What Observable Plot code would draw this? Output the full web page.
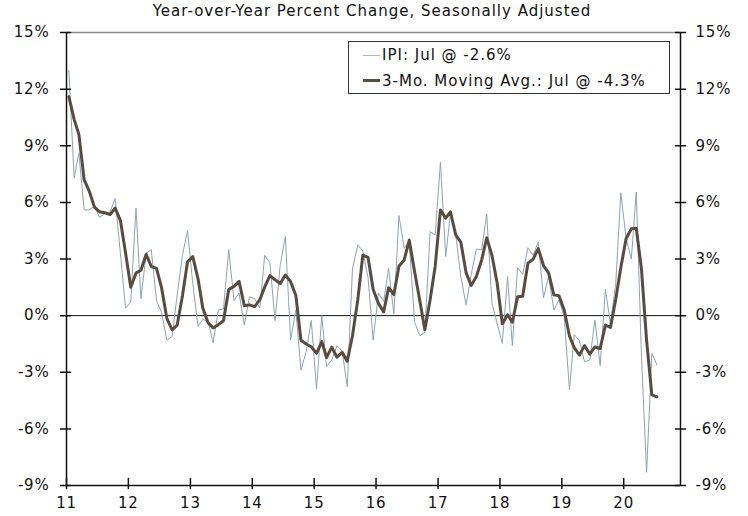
<!DOCTYPE html>
<html><head><meta charset="utf-8">
<script src="https://cdn.jsdelivr.net/npm/d3@7"></script>
<script src="https://cdn.jsdelivr.net/npm/@observablehq/plot@0.6"></script>
<style>
body{margin:0;background:#fff;}
#wrap{position:relative;width:748px;height:516px;font-family:"DejaVu Sans",sans-serif;color:#111;}
#title{height:22px;line-height:22px;text-align:center;font-size:15px;letter-spacing:1.0px;padding-right:4px;}
#legend{position:absolute;left:348px;top:41px;width:320px;height:51px;border:1px solid #333;background:#fff;font-size:15px;letter-spacing:1.0px;}
.row{position:absolute;left:14px;height:20px;display:flex;align-items:center;white-space:nowrap;}
.sw{display:inline-block;width:17px;margin-right:2px;}
</style></head><body>
<div id="wrap">
<div id="title">Year-over-Year Percent Change, Seasonally Adjusted</div>
<div id="chart"></div>
<div id="legend">
  <div class="row" style="top:3px"><span class="sw" id="sw1"></span><span id="lab1"></span></div>
  <div class="row" style="top:28.5px"><span class="sw" id="sw2"></span><span id="lab2"></span></div>
</div>
</div>
<script>
// monthly series, Jan 2011 .. Jul 2020
const startYear = 2011;
const ipi = [
  13.0, 7.3, 8.6, 5.6, 5.6, 5.8, 5.2, 5.4, 5.5, 6.2, 3.3, 0.4,
  0.7, 5.7, 0.9, 3.3, 3.5, 0.8, 0.15, -1.3, -1.1, 1.1, 3.2, 4.5,
  1.7, -0.57, -0.2, -0.3, -1.45, 0.3, 0.35, 3.5, 0.8, 1.2, -0.5, 1.0,
  0.9, 0.4, 3.2, 2.8, -0.27, 2.7, 4.2, -1.3, 0.3, -2.9, -1.9, -0.25,
  -3.9, 0.0, -2.7, -2.35, -1.6, -1.87, -3.76, 2.47, 3.75, 3.43, 2.0, -1.3,
  1.2, 0.75, 2.5, 0.08, 5.3, 3.57, 3.92, -0.32, -1.06, -0.88, 4.45, 4.28,
  8.13, 3.13, 5.42, 4.3, 2.07, 0.57, 2.16, 3.53, 3.48, 5.37, 0.65, -0.41,
  -1.47, 2.07, -1.59, 2.54, 2.19, 3.6, 3.2, 3.9, 0.95, 2.07, 0.3, 0.83,
  -0.05, -3.94, -1.0, -1.34, -2.44, -2.35, -0.23, -2.65, 1.4, -0.46, 1.7, 6.5,
  4.1, 3.0, 6.55, -2.2, -8.3, -2.0, -2.6
];
const ma = [
  11.6, 10.4, 9.6, 7.2, 6.6, 5.75, 5.5, 5.45, 5.35, 5.7, 5.05, 3.35,
  1.5, 2.25, 2.4, 3.25, 2.6, 2.5, 1.47, -0.15, -0.75, -0.5, 1.05, 2.85,
  3.13, 1.95, 0.4, -0.38, -0.65, -0.48, -0.27, 1.38, 1.55, 1.82, 0.52, 0.57,
  0.48, 0.85, 1.52, 2.12, 1.9, 1.7, 2.15, 1.8, 1.07, -1.3, -1.5, -1.65,
  -2.0, -1.38, -2.22, -1.67, -2.2, -1.94, -2.42, -1.07, 0.82, 3.2, 3.08, 1.38,
  0.65, 0.2, 1.48, 1.12, 2.62, 2.95, 4.0, 2.35, 0.8, -0.75, 0.84, 2.62,
  5.6, 5.16, 5.5, 4.28, 3.9, 2.28, 1.6, 2.07, 2.95, 4.12, 3.18, 1.75,
  -0.43, 0.05, -0.35, 1.0, 1.03, 2.78, 2.98, 3.55, 2.65, 2.27, 1.1, 1.05,
  0.3, -1.08, -1.7, -2.09, -1.59, -2.04, -1.66, -1.74, -0.5, -0.62, 0.87, 2.55,
  4.08, 4.6, 4.63, 2.44, -1.32, -4.2, -4.3
];
const yTicks = [15, 12, 9, 6, 3, 0, -3, -6, -9];
const xTickYears = [2011, 2012, 2013, 2014, 2015, 2016, 2017, 2018, 2019, 2020];
const xTickLabels = ["11", "12", "13", "14", "15", "16", "17", "18", "19", "20"];
const xDomain = [new Date(Date.UTC(2011, 0, 1)), new Date(Date.UTC(2020, 11, 1))];
const yDomain = [-9, 15];
const ipiLabel = "IPI: Jul @ -2.6%";
const maLabel = "3-Mo. Moving Avg.: Jul @ -4.3%";
const ipiColor = "#87a5bd";
const maColor = "#5a4b3f";

const data = ipi.map((v, i) => ({date: new Date(Date.UTC(startYear, i, 15)), ipi: v, ma: ma[i]}));
const xTicks = xTickYears.map(y => new Date(Date.UTC(y, 0, 1)));
const fmtY = d => `${d}%`;
const fmtX = d => xTickLabels[xTickYears.indexOf(d.getUTCFullYear())];
const tickShape = {draw(context, l) { context.moveTo(0, 0); context.lineTo(0, -l); }};

const chart = Plot.plot({
  width: 748,
  height: 494,
  marginTop: 10,
  marginBottom: 31,
  marginLeft: 66,
  marginRight: 68,
  style: {fontFamily: "DejaVu Sans", fontSize: "15px", letterSpacing: "0.8px", color: "#111", background: "white"},
  x: {type: "utc", domain: xDomain, axis: null},
  y: {domain: yDomain, axis: null},
  marks: [
    Plot.ruleY([yDomain[1]], {stroke: "#888", strokeWidth: 1.5}),
    Plot.ruleY([0], {stroke: "#111", strokeWidth: 1}),
    Plot.line(data, {x: "date", y: "ipi", stroke: ipiColor, strokeWidth: 1}),
    Plot.line(data, {x: "date", y: "ma", stroke: maColor, strokeWidth: 3}),
    Plot.ruleX([xDomain[0]], {stroke: "#111", strokeWidth: 1.5}),
    Plot.ruleX([xDomain[1]], {stroke: "#111", strokeWidth: 1.5}),
    Plot.ruleY([yDomain[0]], {stroke: "#111", strokeWidth: 1.5}),
    Plot.vector(yTicks, {y: d => d, frameAnchor: "left", rotate: 90, length: 10, anchor: "middle", dx: -1, shape: tickShape, stroke: "#111"}),
    Plot.vector(yTicks, {y: d => d, frameAnchor: "right", rotate: 90, length: 10, anchor: "middle", shape: tickShape, stroke: "#111"}),
    Plot.vector(xTicks, {x: d => d, frameAnchor: "bottom", rotate: 0, length: 10, anchor: "middle", dy: -2, shape: tickShape, stroke: "#111"}),
    Plot.axisY(yTicks, {anchor: "left", tickSize: 0, tickPadding: 17, tickFormat: fmtY, label: null}),
    Plot.axisY(yTicks, {anchor: "right", tickSize: 0, tickPadding: 15, tickFormat: fmtY, label: null}),
    Plot.axisX(xTicks, {anchor: "bottom", tickSize: 0, tickPadding: 12, tickFormat: fmtX, label: null})
  ]
});
document.getElementById("chart").appendChild(chart);

function swatch(id, color, w) {
  const s = document.getElementById(id);
  s.style.borderTop = `${w}px solid ${color}`;
  s.style.height = "0px";
}
swatch("sw1", "#9fbbd2", 1);
swatch("sw2", maColor, 3);
document.getElementById("lab1").textContent = ipiLabel;
document.getElementById("lab2").textContent = maLabel;
</script>
</body></html>
